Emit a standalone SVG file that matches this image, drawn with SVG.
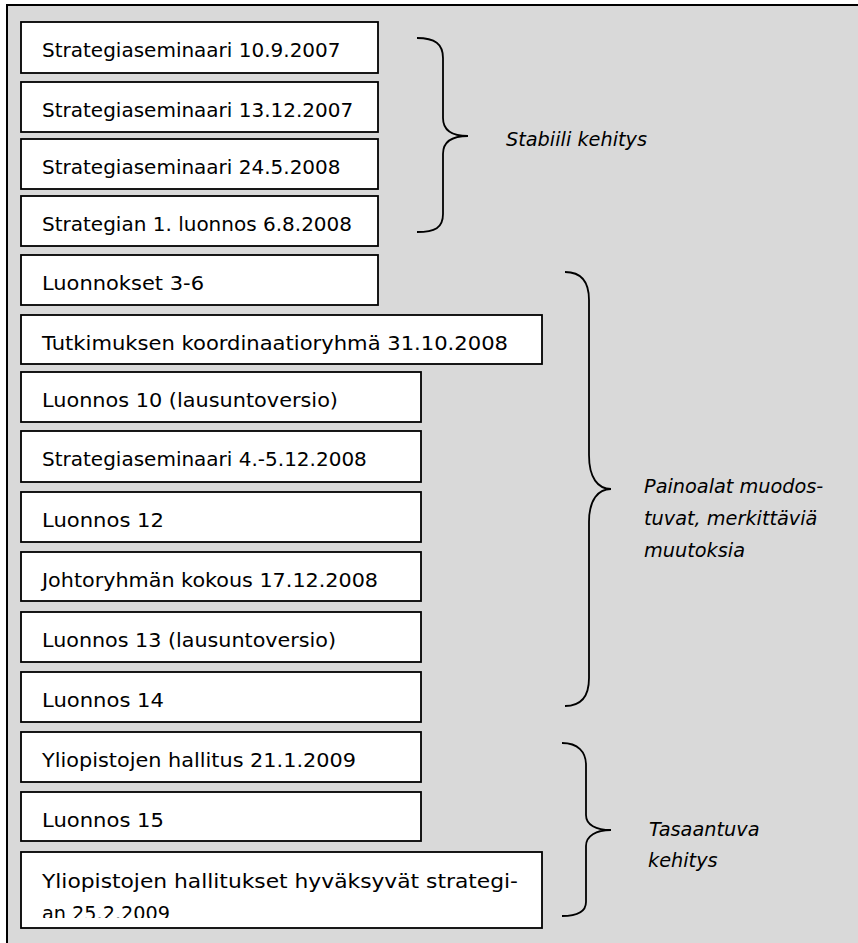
<svg xmlns="http://www.w3.org/2000/svg" width="858" height="943" viewBox="0 0 858 943">
  <defs>
    <style>
      .frame { fill: #d9d9d9; stroke: #000; stroke-width: 2; }
      .box rect { fill: #fff; stroke: #000; stroke-width: 1.8; }
      .box text { font-family: "DejaVu Sans", "Liberation Sans", sans-serif; font-size: 20px; fill: #000; }
      .brace { fill: none; stroke: #000; stroke-width: 1.8; }
      .label { font-family: "DejaVu Sans", "Liberation Sans", sans-serif; font-size: 19.3px; font-style: italic; fill: #000; }
    </style>
    <clipPath id="clip-last">
      <rect x="21" y="852" width="521" height="66"/>
    </clipPath>
  </defs>

  <!-- page and grey panel -->
  <rect x="0" y="0" width="858" height="943" fill="#fff"/>
  <rect class="frame" x="7" y="5" width="870" height="960"/>

  <!-- timeline boxes -->
  <g id="n1" class="box"><rect x="21" y="22" width="357" height="51"/><text x="42" y="57">Strategiaseminaari 10.9.2007</text></g>
  <g id="n2" class="box"><rect x="21" y="82" width="357" height="50"/><text x="42" y="117">Strategiaseminaari 13.12.2007</text></g>
  <g id="n3" class="box"><rect x="21" y="139" width="357" height="50"/><text x="42" y="174">Strategiaseminaari 24.5.2008</text></g>
  <g id="n4" class="box"><rect x="21" y="196" width="357" height="50"/><text x="42" y="231">Strategian 1. luonnos 6.8.2008</text></g>
  <g id="n5" class="box"><rect x="21" y="255" width="357" height="50"/><text x="42" y="290" textLength="162" lengthAdjust="spacingAndGlyphs">Luonnokset 3-6</text></g>
  <g id="n6" class="box"><rect x="21" y="315" width="521" height="49"/><text x="42" y="350" textLength="466" lengthAdjust="spacingAndGlyphs">Tutkimuksen koordinaatioryhmä 31.10.2008</text></g>
  <g id="n7" class="box"><rect x="21" y="372" width="400" height="50"/><text x="42" y="407" textLength="296" lengthAdjust="spacingAndGlyphs">Luonnos 10 (lausuntoversio)</text></g>
  <g id="n8" class="box"><rect x="21" y="431" width="400" height="51"/><text x="42" y="466">Strategiaseminaari 4.-5.12.2008</text></g>
  <g id="n9" class="box"><rect x="21" y="492" width="400" height="50"/><text x="42" y="527" textLength="122" lengthAdjust="spacingAndGlyphs">Luonnos 12</text></g>
  <g id="n10" class="box"><rect x="21" y="552" width="400" height="49"/><text x="42" y="587" textLength="336" lengthAdjust="spacingAndGlyphs">Johtoryhmän kokous 17.12.2008</text></g>
  <g id="n11" class="box"><rect x="21" y="612" width="400" height="50"/><text x="42" y="647" textLength="294" lengthAdjust="spacingAndGlyphs">Luonnos 13 (lausuntoversio)</text></g>
  <g id="n12" class="box"><rect x="21" y="672" width="400" height="50"/><text x="42" y="707" textLength="122" lengthAdjust="spacingAndGlyphs">Luonnos 14</text></g>
  <g id="n13" class="box"><rect x="21" y="732" width="400" height="50"/><text x="42" y="767" textLength="314" lengthAdjust="spacingAndGlyphs">Yliopistojen hallitus 21.1.2009</text></g>
  <g id="n14" class="box"><rect x="21" y="792" width="400" height="49"/><text x="42" y="827" textLength="122" lengthAdjust="spacingAndGlyphs">Luonnos 15</text></g>
  <g id="n15" class="box"><rect x="21" y="852" width="521" height="76"/>
    <g clip-path="url(#clip-last)">
      <text x="42" y="888" textLength="476" lengthAdjust="spacingAndGlyphs">Yliopistojen hallitukset hyväksyvät strategi-</text>
      <text x="42" y="920" textLength="128" lengthAdjust="spacingAndGlyphs">an 25.2.2009</text>
    </g>
  </g>

  <!-- braces grouping the phases -->
  <g id="connectors">
    <path class="brace" d="M417,38 C435,38 443,44 443,58 L443,118 C443,130 452,136 468,136 C452,136 443,142 443,154 L443,214 C443,228 435,232 417,232"/>
    <path class="brace" d="M565,272 C582,272 589,282 589,300 L589,455 C589,478 598,489 611,489 C598,489 589,500 589,522 L589,678 C589,696 582,706 565,706"/>
    <path class="brace" d="M562,743 C578,743 586,752 586,765 L586,815 C586,825 596,830 611,830 C596,830 586,836 586,846 L586,902 C586,912 578,916 562,916"/>
  </g>

  <!-- phase labels -->
  <g id="phase1"><text class="label" x="506" y="146">Stabiili kehitys</text></g>
  <g id="phase2">
    <text class="label" x="644" y="493">Painoalat muodos-</text>
    <text class="label" x="644" y="525">tuvat, merkittäviä</text>
    <text class="label" x="644" y="557">muutoksia</text>
  </g>
  <g id="phase3">
    <text class="label" x="649" y="836">Tasaantuva</text>
    <text class="label" x="648" y="867">kehitys</text>
  </g>
</svg>
